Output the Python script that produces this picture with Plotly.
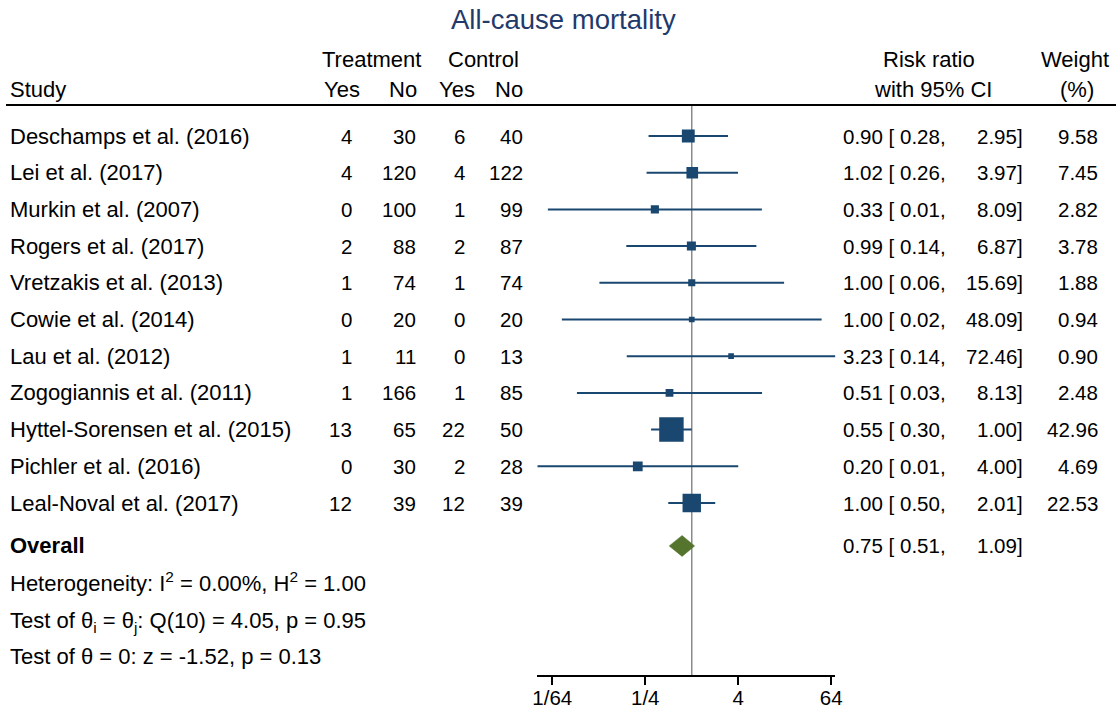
import math
import plotly.graph_objects as go

# ---- data -----------------------------------------------------------------
studies = [
    "Deschamps et al. (2016)", "Lei et al. (2017)", "Murkin et al. (2007)",
    "Rogers et al. (2017)", "Vretzakis et al. (2013)", "Cowie et al. (2014)",
    "Lau et al. (2012)", "Zogogiannis et al. (2011)",
    "Hyttel-Sorensen et al. (2015)", "Pichler et al. (2016)",
    "Leal-Noval et al. (2017)",
]
treat_yes = [4, 4, 0, 2, 1, 0, 1, 1, 13, 0, 12]
treat_no = [30, 120, 100, 88, 74, 20, 11, 166, 65, 30, 39]
ctrl_yes = [6, 4, 1, 2, 1, 0, 0, 1, 22, 2, 12]
ctrl_no = [40, 122, 99, 87, 74, 20, 13, 85, 50, 28, 39]

rr = [0.902, 1.016, 0.333, 0.989, 1.000, 1.000, 3.231, 0.51497, 0.5455, 0.200, 1.000]
ci_low = [0.276, 0.260, 0.0137, 0.142, 0.0637, 0.0208, 0.144, 0.0326, 0.2975, 0.0100, 0.4967]
ci_high = [2.949, 3.973, 8.090, 6.868, 15.69, 48.09, 72.46, 8.134, 1.000, 4.000, 2.013]
weights = [9.58, 7.45, 2.82, 3.78, 1.88, 0.94, 0.90, 2.48, 42.96, 4.69, 22.53]

overall_rr = 0.75
overall_low = 0.51
overall_high = 1.09

stats_lines = [
    "Heterogeneity: I<sup>2</sup> = 0.00%, H<sup>2</sup> = 1.00",
    "Test of θ<sub>i</sub> = θ<sub>j</sub>: Q(10) = 4.05, p = 0.95",
    "Test of θ = 0: z = -1.52, p = 0.13",
]
# small vertical nudges (px) so super/subscripts don't move the baseline
stats_shift = [1, -3, 0]

tick_vals = [1 / 64, 1 / 4, 4, 64]
tick_text = ["1/64", "1/4", "4", "64"]

title_text = "All-cause mortality"

# ---- layout geometry ----------------------------------------------------
W, H = 1116, 710
PLOT_BOTTOM = 675            # pixel row of the x axis line
ROW0, ROW_STEP = 136, 36.7   # pixel centre of first study row, spacing

NAVY = "#1a476f"
GREEN = "#55752f"
FONT = "Liberation Sans, Arial, sans-serif"
FS_TEXT = 22     # labels with words
FS_NUM = 20.5    # numeric columns


def row_of(px):
    return (px - ROW0) / ROW_STEP


def xp(px):
    return px / W


n = len(studies)
rows = list(range(n))
overall_row = n + 0.17

fig = go.Figure()

# confidence interval lines
ci_x, ci_y = [], []
for i in rows:
    ci_x += [ci_low[i], ci_high[i], None]
    ci_y += [i, i, None]
fig.add_trace(go.Scatter(x=ci_x, y=ci_y, mode="lines",
                         line=dict(color=NAVY, width=2), hoverinfo="skip"))

# weighted point estimates
fig.add_trace(go.Scatter(
    x=rr, y=rows, mode="markers",
    marker=dict(symbol="square", color=NAVY, opacity=1,
                size=[3.35 * math.sqrt(w) + 2.5 for w in weights],
                line=dict(width=0)),
    hoverinfo="skip"))

# overall diamond
dh = 0.286
fig.add_trace(go.Scatter(
    x=[overall_low, overall_rr, overall_high, overall_rr, overall_low],
    y=[overall_row, overall_row - dh, overall_row, overall_row + dh, overall_row],
    mode="lines", fill="toself", fillcolor=GREEN,
    line=dict(color=GREEN, width=0.5), hoverinfo="skip"))

ann = []


def txt(text, x_px, y_row, anchor="left", size=FS_TEXT, color="black", yshift=0):
    ann.append(dict(text=text, x=xp(x_px), y=y_row, xref="paper", yref="y",
                    xanchor=anchor, yanchor="middle", showarrow=False,
                    borderpad=0, borderwidth=0, yshift=yshift,
                    font=dict(family=FONT, size=size, color=color)))


# header
h1, h2 = row_of(59), row_of(89)
txt("Treatment", 371, h1, "center")
txt("Control", 483, h1, "center")
txt("Study", 10, h2)
txt("Yes", 341.5, h2, "center")
txt("No", 402.5, h2, "center")
txt("Yes", 456.5, h2, "center")
txt("No", 508.5, h2, "center")
txt("Risk ratio", 929, h1, "center")
txt("with 95% CI", 933, h2, "center")
txt("Weight", 1075, h1, "center")
txt("(%)", 1076.5, h2, "center")

# study rows
for i in rows:
    txt(studies[i], 10, i)
    txt(str(treat_yes[i]), 352, i, "right", FS_NUM)
    txt(str(treat_no[i]), 416, i, "right", FS_NUM)
    txt(str(ctrl_yes[i]), 465, i, "right", FS_NUM)
    txt(str(ctrl_no[i]), 523, i, "right", FS_NUM)
    txt(f"{rr[i]:.2f} [ {ci_low[i]:.2f},", 843, i, "left", FS_NUM)
    txt(f"{ci_high[i]:.2f}]", 1023, i, "right", FS_NUM)
    txt(f"{weights[i]:.2f}", 1098, i, "right", FS_NUM)

# overall row and statistics
txt("<b>Overall</b>", 10, overall_row)
txt(f"{overall_rr:.2f} [ {overall_low:.2f},", 843, overall_row, "left", FS_NUM)
txt(f"{overall_high:.2f}]", 1023, overall_row, "right", FS_NUM)
for k, s in enumerate(stats_lines):
    txt(s, 10, overall_row + 1 + k, yshift=stats_shift[k])

# title
txt(title_text, 563, row_of(19), "center", size=27.5, color="#1f3a6b")

y_top = row_of(0)
y_bot = row_of(PLOT_BOTTOM)

shapes = [
    # header rule
    dict(type="line", xref="paper", yref="y", x0=xp(6), x1=1.0,
         y0=row_of(105), y1=row_of(105), line=dict(color="black", width=2)),
    # line of no effect
    dict(type="line", xref="x", yref="y", x0=1, x1=1,
         y0=row_of(106), y1=y_bot, layer="below",
         line=dict(color="#8a8a8a", width=1.5)),
]

x_lo = math.log10(min(ci_low))
x_hi = math.log10(max(ci_high))

fig.update_layout(
    template="none",
    width=W, height=H,
    margin=dict(l=0, r=0, t=0, b=H - PLOT_BOTTOM, pad=0),
    paper_bgcolor="white", plot_bgcolor="white",
    showlegend=False,
    annotations=ann, shapes=shapes,
    xaxis=dict(type="log", range=[x_lo, x_hi], automargin=False,
               domain=[xp(537.3), xp(835.4)],
               tickvals=tick_vals, ticktext=tick_text,
               ticks="outside", ticklen=8, tickwidth=1.5, tickcolor="black",
               ticklabelstandoff=-4,
               showline=True, linecolor="black", linewidth=1.5,
               showgrid=False, zeroline=False,
               tickfont=dict(family=FONT, size=FS_NUM, color="black")),
    yaxis=dict(range=[y_bot, y_top], visible=False, showgrid=False,
               zeroline=False, automargin=False),
)

fig.write_html("out.html")
